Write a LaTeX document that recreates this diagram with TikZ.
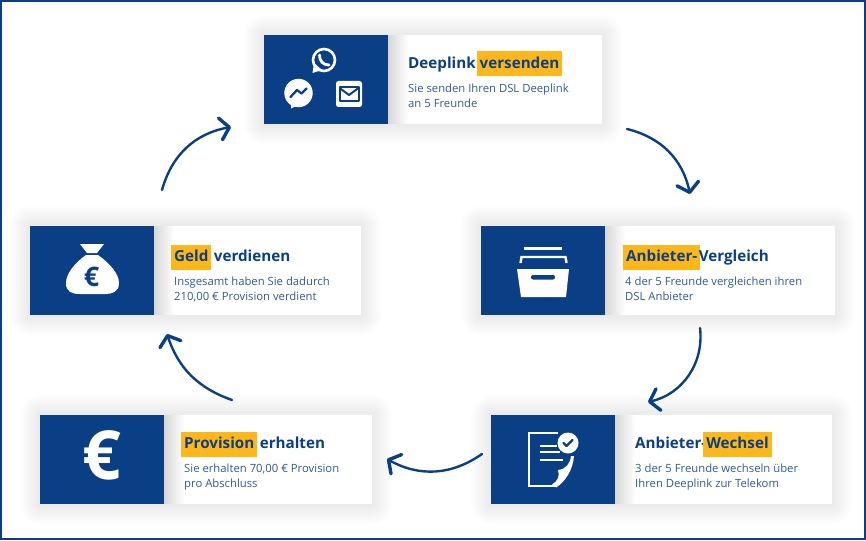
\documentclass[tikz,border=0pt]{standalone}
\usepackage{fontspec}
\setmainfont{Open Sans}
\usetikzlibrary{arrows.meta}
\usetikzlibrary{backgrounds}
\definecolor{navy}{HTML}{0A3F86}
\definecolor{mark}{HTML}{FDB71A}
\definecolor{bodytext}{HTML}{2F5A99}
\newcommand{\hl}[1]{\kern-3pt\relax{\setlength{\fboxsep}{0pt}\colorbox{mark}{\rule[-8pt]{0pt}{25pt}\kern3pt\relax #1\kern3pt\relax}}\kern-1.5pt\relax}
\tikzset{>=latex}
\tikzset{card/.style={fill=white,minimum width=#1,minimum height=89pt,inner sep=0pt,anchor=north west}}
\tikzset{panel/.style={fill=navy,minimum width=124pt,minimum height=89pt,inner sep=0pt,anchor=north west}}
\tikzset{heading/.style={anchor=west,inner sep=0pt,text=navy,font=\fontsize{15.2}{18}\selectfont\bfseries}}
\tikzset{blurb/.style={anchor=north west,inner sep=0pt,text=bodytext,align=left,font=\fontsize{11.3}{15}\selectfont}}
\tikzset{flow/.style={navy,line width=2.4pt,line cap=round,-{Straight Barb[round,length=9pt,width=22pt,line width=3.4pt]}}}
\tikzset{iconline/.style={draw=white,line width=2.6pt}}
\tikzset{iconcut/.style={draw=navy,line width=2.3pt,line cap=round,line join=round}}

\begin{document}
\begin{tikzpicture}[x=1pt,y=-1pt]
                    \useasboundingbox (0,0) rectangle (866,540);

                    % cards
                    \node[card=338pt] (deeplink) at (264,35) {};
                    \node[card=354pt] (vergleich) at (481,226) {};
                    \node[card=341pt] (wechsel) at (491,415) {};
                    \node[card=332pt] (provision) at (40,415) {};
                    \node[card=331pt] (geld) at (30,226) {};

                    % shadows and frame
                    \begin{scope}[on background layer]
                    \fill[white] (0,0) rectangle (866,540);
                    \foreach \c in {deeplink,vergleich,wechsel,provision,geld}{
                        \foreach \r in {2,4,...,20}{
                            \fill[black,opacity=.009,rounded corners=\r pt]
                                ([shift={(-\r,-\r)}]\c.north west) rectangle ([shift={(\r,\r)}]\c.south east);
                        }
                    }
                    \end{scope}
                    \draw[navy,line width=2pt] (1,1) rectangle (865,539);

                    % panels, the soft edge right of each one first
                    \foreach \c in {deeplink,vergleich,wechsel,provision,geld}{
                        \foreach \r in {1,2,...,20}{
                            \fill[black,opacity=.007] ([xshift=124]\c.north west) rectangle ([xshift=124+\r]\c.south west);
                        }
                    }
                    \node[panel] (deeplinkicon) at (deeplink.north west) {};
                    \node[panel] (vergleichicon) at (vergleich.north west) {};
                    \node[panel] (wechselicon) at (wechsel.north west) {};
                    \node[panel] (provisionicon) at (provision.north west) {};
                    \node[panel] (geldicon) at (geld.north west) {};

                    % texts
                    \node[heading] (deeplinkhead) at (408,64) {Deeplink \hl{versenden}};
                    \node[blurb] (deeplinktext) at (408,84) {Sie senden Ihren DSL Deeplink\\an 5 Freunde};
                    \node[heading] (vergleichhead) at (626,257) {\hl{Anbieter-}Vergleich};
                    \node[blurb] (vergleichtext) at (625,277) {4 der 5 Freunde vergleichen ihren\\DSL Anbieter};
                    \node[heading] (wechselhead) at (635,444) {Anbieter-\hl{Wechsel}};
                    \node[blurb] (wechseltext) at (635,464) {3 der 5 Freunde wechseln über\\Ihren Deeplink zur Telekom};
                    \node[heading] (provisionhead) at (184,444) {\hl{Provision} erhalten};
                    \node[blurb] (provisiontext) at (184,464) {Sie erhalten 70,00 € Provision\\pro Abschluss};
                    \node[heading] (geldhead) at (174,257) {\hl{Geld} verdienen};
                    \node[blurb] (geldtext) at (174,277) {Insgesamt haben Sie dadurch\\210,00 € Provision verdient};

                    % arrow ends
                    \coordinate (a1) at (627,129);
                    \coordinate (a2) at (690,194);
                    \coordinate (b1) at (700,328);
                    \coordinate (b2) at (648,402);
                    \coordinate (c1) at (482,454);
                    \coordinate (c2) at (387,459);
                    \coordinate (d1) at (232,400);
                    \coordinate (d2) at (167,334);
                    \coordinate (e1) at (162,190);
                    \coordinate (e2) at (231,127);
                    \draw[flow] (a1) to[bend left=32] (a2);
                    \draw[flow] (b1) to[bend left=42] (b2);
                    \draw[flow] (c1) to[bend left=32] (c2);
                    \draw[flow] (d1) to[bend left=26] (d2);
                    \draw[flow] (e1) to[bend left=32] (e2);

                    % whatsapp
                    \draw[iconline,line width=2.6pt] (324,60) circle (11);
                    \fill[white] (314,63) -- (312.5,73) -- (322,70) -- cycle;
                    \draw[white,line width=2.8pt,line cap=round] (319.5,55) .. controls (319.5,61) and (323,65) .. (329,65);
                    % messenger
                    \fill[white] (298.5,93) circle (14.2);
                    \fill[white] (291,103) -- (291,108.5) -- (298,105) -- cycle;
                    \draw[iconcut] (290.5,97) -- (297,90) -- (301.5,93.5) -- (306.5,88.5);
                    % mail
                    \fill[white,rounded corners=2.5pt] (336,81) rectangle (362,107);
                    \draw[navy,line width=2pt,line join=round] (339.5,87.5) rectangle (358.5,101.5);
                    \draw[navy,line width=2pt,line join=round] (339.5,88) -- (349,95) -- (358.5,88);

                    % archive box
                    \fill[white] (524,247) rectangle (562,250);
                    \draw[iconline,line width=2.4pt] (520.5,263) -- (521.5,257) -- (565.5,257) -- (566.5,263);
                    \fill[white] (517,269) -- (569,269) -- (566,297) -- (521,297) -- cycle;
                    \fill[navy,rounded corners=2pt] (531,275) rectangle (555,279.5);

                    % document
                    \draw[iconline] (558,433) -- (529,433) -- (529,486) -- (557,486);
                    \fill[white] (556,487.5) .. controls (565,482) and (573,470) .. (574,456) -- (571,456) .. controls (570,464) and (566,469) .. (558,470) .. controls (560,476) and (558,481) .. (552,484.5) -- cycle;
                    \draw[white,line width=2pt] (540,446) -- (557,446) (540,452) -- (560,452) (540,460) -- (563,460);
                    \fill[white] (568,443) circle (10.5);
                    \draw[iconcut] (563.5,443) -- (566.5,446) -- (572.5,440);

                    % bag
                    \fill[white] (80,244) -- (104,244) -- (97,253) -- (87,253) -- cycle;
                    \fill[white] (86,255) -- (98,255) .. controls (108,262) and (119,273) .. (119,283) .. controls (119,292) and (112,294) .. (105,294) -- (80,294) .. controls (72,294) and (66,292) .. (66,283) .. controls (66,273) and (76,262) .. (86,255) -- cycle;
                    \node[inner sep=0pt,text=navy,font=\fontsize{27}{27}\selectfont\bfseries] (bageuro) at (91.5,277) {€};

                    % big euro
                    \node[inner sep=0pt,text=white,font=\fontsize{68}{68}\selectfont\bfseries] (bigeuro) at (102,455.5) {€};
\end{tikzpicture}
\end{document}
